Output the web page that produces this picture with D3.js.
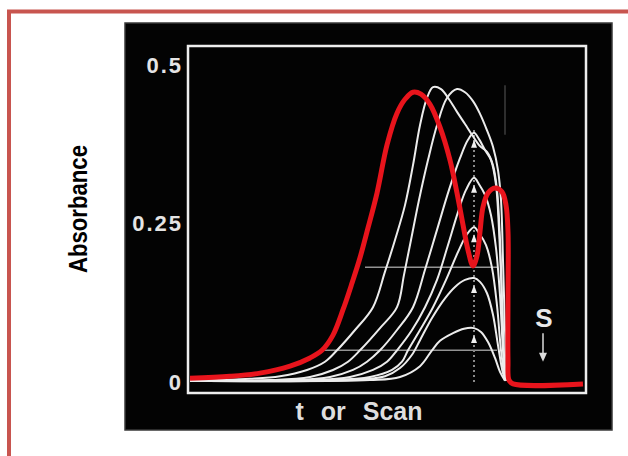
<!DOCTYPE html>
<html><head><meta charset="utf-8">
<script src="https://cdn.jsdelivr.net/npm/d3@7"></script>
<style>body{margin:0;background:#fff}svg{display:block}</style>
</head><body>
<svg id="c" width="628" height="456"></svg>
<script>
// ---- data ----
const yTicks = [0, 0.25, 0.5];
const yTickLabels = ["0", "0.25", "0.5"];
const xLabel = "t or Scan";
const yLabel = "Absorbance";
const redCurve = [[0.5,0.006],[10.5,0.009],[18,0.014],[25.5,0.025],[30.5,0.038],[33.5,0.050],[36.25,0.074],[38.75,0.114],[41,0.156],[43,0.196],[45,0.243],[47.25,0.298],[49.75,0.374],[52.25,0.424],[54.25,0.446],[56.25,0.457],[58.25,0.454],[60.5,0.438],[63,0.402],[65.5,0.350],[67.25,0.298],[68.75,0.248],[70,0.208],[71.25,0.183],[72.25,0.199],[73,0.237],[73.75,0.276],[75,0.298],[76.75,0.306],[78.5,0.300],[79.5,0.279],[80,0.237],[80,0.129],[80,0.035],[80.25,0.003],[81.25,-0.003],[98.75,-0.003]];
const whiteA = [[0.5,0.002],[15.5,0.005],[23,0.009],[29.75,0.019],[34.25,0.032],[37.25,0.050],[41.75,0.082],[46.25,0.118],[49.25,0.174],[51.75,0.224],[54.25,0.279],[56.25,0.342],[58,0.405],[59.75,0.448],[61.25,0.465],[63.25,0.462],[65.25,0.446],[67.25,0.426],[69.25,0.407],[71,0.390],[73,0.372],[74.75,0.363],[76.25,0.342],[77.25,0.303],[78,0.224],[78.5,0.129],[79,0.035],[79.5,0.002]];
const whiteB = [[0.5,0.002],[20.5,0.003],[30.5,0.008],[36.25,0.019],[40,0.032],[43,0.050],[48,0.085],[52.25,0.118],[54,0.169],[55.75,0.224],[57.75,0.287],[60,0.350],[62.25,0.405],[64.75,0.448],[67.25,0.462],[69.25,0.457],[71.25,0.443],[73,0.423],[74.75,0.397],[76.25,0.371],[77.5,0.334],[78.25,0.287],[78.75,0.192],[79.25,0.082],[79.75,0.002]];
const white5 = [[0.5,0.002],[25.5,0.003],[35.5,0.008],[41.25,0.019],[44.75,0.032],[48,0.050],[52.25,0.082],[56.25,0.118],[59.25,0.177],[62.25,0.240],[65.25,0.303],[68,0.353],[70,0.382],[71.5,0.393],[72.75,0.383],[74.25,0.366],[75.75,0.350],[77,0.311],[77.75,0.240],[78.5,0.129],[79.25,0.019],[79.75,0.002]];
const white4 = [[0.5,0.002],[30.5,0.003],[40.5,0.008],[46.25,0.019],[49.75,0.032],[52.25,0.050],[56,0.082],[59.25,0.118],[62.25,0.161],[65,0.216],[67.5,0.268],[69.5,0.303],[71.5,0.322],[72.75,0.312],[74.25,0.295],[75.75,0.263],[77,0.211],[78,0.137],[78.75,0.050],[79.5,0.002]];
const white3 = [[0.5,0.002],[35.5,0.003],[45.5,0.008],[51,0.019],[53.5,0.032],[55,0.050],[58,0.082],[61.25,0.118],[64.5,0.161],[67.5,0.205],[69.75,0.233],[71.5,0.244],[72.75,0.235],[74.5,0.216],[76,0.180],[77.25,0.121],[78.25,0.050],[79.25,0.002]];
const white2 = [[0.5,0.002],[40.5,0.003],[49.25,0.009],[53,0.022],[56,0.043],[58,0.066],[61,0.101],[64.25,0.132],[66.75,0.150],[69.25,0.161],[71.5,0.164],[73,0.158],[74.75,0.140],[76.25,0.106],[77.5,0.058],[78.75,0.014],[79.5,0.002]];
const white1 = [[0.5,0.002],[45.5,0.003],[53,0.008],[58,0.025],[61,0.050],[63,0.065],[66.25,0.077],[69,0.084],[71.5,0.085],[73.25,0.079],[75,0.063],[76.75,0.038],[78,0.016],[79.25,0.002]];
const whiteCurves = [whiteA, whiteB, white5, white4, white3, white2, white1];
const smallPeaks = [[71.5,0.393],[71.5,0.322],[71.5,0.244],[71.5,0.164],[71.5,0.085]];
const hLines = [[0.181, 44.25, 77.25], [0.050, 33.5, 77.25]];
const dottedLine = [71.5, 0.0, 0.40];
const faintLine = [79.25, 0.39, 0.468];
const sMark = [89, 0.101, 0.077, 0.032];

// ---- layout ----
const svg = d3.select("#c");
const x = d3.scaleLinear().domain([0, 100]).range([188, 588]);
const y = d3.scaleLinear().domain([0, 0.5]).range([382, 65]);

svg.append("rect").attr("x",9).attr("y",11.5).attr("width",700).attr("height",600)
  .attr("fill","none").attr("stroke","#c8554f").attr("stroke-width",4);
svg.append("rect").attr("x",125).attr("y",23).attr("width",487).attr("height",407)
  .attr("fill","#030303").attr("stroke","#3a3a3a").attr("stroke-width",1.5);
svg.append("rect").attr("x",188).attr("y",46).attr("width",398).attr("height",347)
  .attr("fill","none").attr("stroke","#eeeeee").attr("stroke-width",2.5);

// y axis labels
const yAxis = d3.axisLeft(y).tickValues(yTicks).tickSize(0).tickPadding(5)
  .tickFormat((d,i) => yTickLabels[i]);
const ga = svg.append("g").attr("transform","translate(188,0)").call(yAxis);
ga.select(".domain").remove();
ga.selectAll("text").attr("fill","#e4e4e4").attr("font-family","Liberation Sans, Arial, sans-serif")
  .attr("font-weight","bold").attr("font-size",22).style("letter-spacing","2px");

// horizontal faint lines
svg.selectAll(".hl").data(hLines).enter().append("line")
  .attr("x1",d=>x(d[1])).attr("x2",d=>x(d[2])).attr("y1",d=>y(d[0])).attr("y2",d=>y(d[0]))
  .attr("stroke","#b8b8b8").attr("stroke-width",1.5).attr("opacity",0.8);
// dotted vertical
svg.append("line").attr("x1",x(dottedLine[0])).attr("x2",x(dottedLine[0]))
  .attr("y1",y(dottedLine[1])).attr("y2",y(dottedLine[2]))
  .attr("stroke","#8a8a8a").attr("stroke-width",2).attr("stroke-dasharray","2,3");
svg.append("line").attr("x1",x(faintLine[0])).attr("x2",x(faintLine[0]))
  .attr("y1",y(faintLine[1])).attr("y2",y(faintLine[2]))
  .attr("stroke","#2e2e2e").attr("stroke-width",2);

const line = d3.line().x(d=>x(d[0])).y(d=>y(d[1])).curve(d3.curveCatmullRom.alpha(0.5));
svg.selectAll(".w").data(whiteCurves).enter().append("path")
  .attr("d", line).attr("fill","none").attr("stroke","#ececec").attr("stroke-width",2);

// small arrowheads under the peaks
svg.selectAll(".tri").data(smallPeaks).enter().append("path")
  .attr("d", d => { const cx=x(d[0]), cy=y(d[1])+7; return `M${cx},${cy}L${cx+3},${cy+8}L${cx-3},${cy+8}Z`; })
  .attr("fill","#f0f0f0");

svg.append("path").datum(redCurve).attr("d", line).attr("fill","none")
  .attr("stroke","#e8141c").attr("stroke-width",5).attr("stroke-linejoin","round");

// labels
svg.append("text").attr("x",359).attr("y",420).attr("text-anchor","middle")
  .attr("fill","#dedede").attr("font-family","Liberation Sans, Arial, sans-serif").attr("font-weight","bold")
  .attr("font-size",25).style("word-spacing","10px").text(xLabel);
svg.append("text").attr("transform","translate(87,209) rotate(-90)").attr("text-anchor","middle")
  .attr("fill","#000").attr("font-family","Liberation Sans, Arial, sans-serif").attr("font-weight","bold")
  .attr("font-size",26).attr("textLength",128).attr("lengthAdjust","spacingAndGlyphs").text(yLabel);

// S arrow
const sx = x(sMark[0]);
svg.append("text").attr("x",sx).attr("y",y(sMark[1])+9).attr("text-anchor","middle")
  .attr("fill","#e8e8e8").attr("font-family","Liberation Sans, Arial, sans-serif").attr("font-weight","bold")
  .attr("font-size",26).text("S");
svg.append("line").attr("x1",sx-1).attr("x2",sx-1).attr("y1",y(sMark[2])).attr("y2",y(sMark[3])-6)
  .attr("stroke","#ddd").attr("stroke-width",1.5);
svg.append("path").attr("d",`M${sx-5},${y(sMark[3])-9}L${sx+3},${y(sMark[3])-9}L${sx-1},${y(sMark[3])}Z`).attr("fill","#ddd");
</script>
</body></html>
